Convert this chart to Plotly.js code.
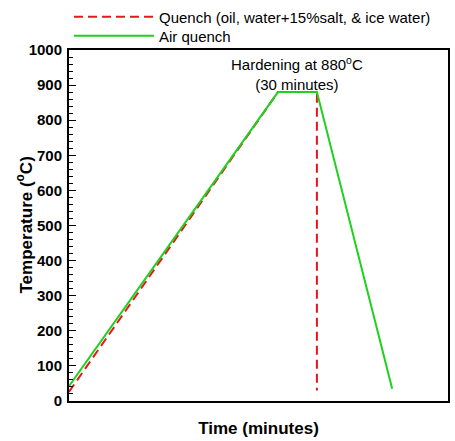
<!DOCTYPE html>
<html><head><meta charset="utf-8">
<script src="https://cdn.plot.ly/plotly-3.0.1.min.js"></script>
<style>html,body{margin:0;padding:0;background:#fff}#chart{width:455px;height:441px}</style>
</head><body><div id="chart"></div>
<script>
const quenchTime = [0, 161, 191, 191];
const quenchTemp = [26, 880, 880, 30];
const airTime = [0, 161, 191, 249];
const airTemp = [42, 880, 880, 35];
const seriesNames = ['Quench (oil, water+15%salt, & ice water)', 'Air quench'];
const yTicks = [0,100,200,300,400,500,600,700,800,900,1000];

const font = {family: 'Liberation Sans, Arial, sans-serif', color: '#000'};
const traces = [
  {x: quenchTime, y: quenchTemp, name: seriesNames[0], mode: 'lines', legend: 'legend',
   line: {color: '#e8161b', width: 2, dash: '9px,5px'}},
  {x: airTime, y: airTemp, name: seriesNames[1], mode: 'lines', legend: 'legend2',
   line: {color: '#1fd11f', width: 2}}
];
function legendAt(py) {
  return {xref: 'container', yref: 'container', x: 69/455, y: 1 - py/441, xanchor: 'left', yanchor: 'middle',
    orientation: 'v', font: Object.assign({}, font, {size: 15}), itemwidth: 80,
    bgcolor: 'rgba(0,0,0,0)'};
}
const layout = {
  width: 455, height: 441,
  margin: {l: 69, r: 7, t: 50, b: 40, autoexpand: false},
  paper_bgcolor: '#fff', plot_bgcolor: '#fff',
  showlegend: true,
  legend: legendAt(17),
  legend2: legendAt(36),
  xaxis: {range: [0, 292], showticklabels: false, ticks: '', showgrid: false, zeroline: false,
    showline: true, linecolor: '#000', linewidth: 2, mirror: true, automargin: false,
    title: {text: '<b>Time (minutes)</b>', font: Object.assign({}, font, {size: 17}), standoff: 20}},
  yaxis: {range: [0, 1000], tickvals: yTicks, ticks: 'inside', ticklen: 7, tickwidth: 1, tickcolor: '#000',
    minor: {dtick: 20, ticks: 'inside', ticklen: 4, tickcolor: '#000', showgrid: false},
    showgrid: false, zeroline: false, showline: true, linecolor: '#000', linewidth: 2, mirror: true,
    automargin: false, ticklabelstandoff: 2,
    tickfont: Object.assign({}, font, {size: 15, weight: 'bold'})},
  annotations: [
    {x: 176, y: 880, xref: 'x', yref: 'y', yanchor: 'bottom', yshift: -3, showarrow: false,
     text: 'Hardening at 880<sup>o</sup>C<br>(30 minutes)', align: 'center',
     font: Object.assign({}, font, {size: 15})},
    {x: (24 - 69) / 379, y: 0.5, xref: 'paper', yref: 'paper', xanchor: 'center', yanchor: 'middle',
     textangle: -90, showarrow: false, text: '<b>Temperature (<sup>o</sup>C)</b>',
     font: Object.assign({}, font, {size: 17})}
  ]
};
Plotly.newPlot('chart', traces, layout, {displayModeBar: false, staticPlot: true});
</script></body></html>
